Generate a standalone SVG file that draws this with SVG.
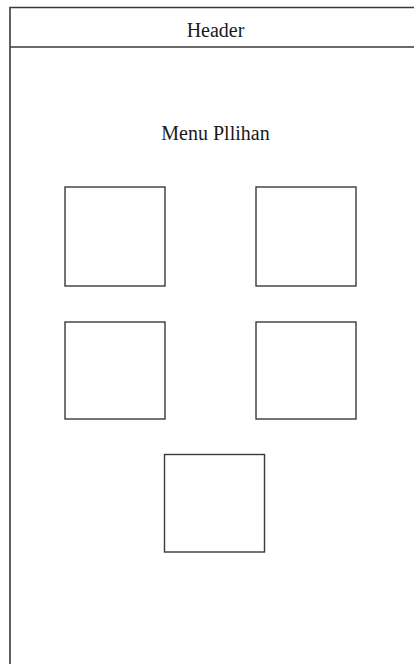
<svg xmlns="http://www.w3.org/2000/svg" width="414" height="664" viewBox="0 0 414 664">
<style>
.frame{fill:none;stroke:#3a3a3a;stroke-width:1.6}
.box{fill:#fff;stroke:#3a3a3a;stroke-width:1.4}
.t{font-family:"Liberation Serif","Times New Roman",serif;font-size:20px;fill:#1a1a1a;text-anchor:middle}
</style>
<rect width="414" height="664" fill="#fff"/>
<g id="frame">
<path class="frame" d="M10,665 V7.5 H415"/>
<line class="frame" x1="10" y1="47" x2="415" y2="47"/>
</g>
<g id="header"><text class="t" x="215.5" y="37">Header</text></g>
<g id="title"><text class="t" x="215.5" y="140">Menu Pllihan</text></g>
<g id="box1"><rect class="box" x="65" y="187" width="100" height="99"/></g>
<g id="box2"><rect class="box" x="256" y="187" width="100" height="99"/></g>
<g id="box3"><rect class="box" x="65" y="322" width="100" height="97"/></g>
<g id="box4"><rect class="box" x="256" y="322" width="100" height="97"/></g>
<g id="box5"><rect class="box" x="164.5" y="454.5" width="100" height="97.5"/></g>
<g id="connectors"/>
</svg>
